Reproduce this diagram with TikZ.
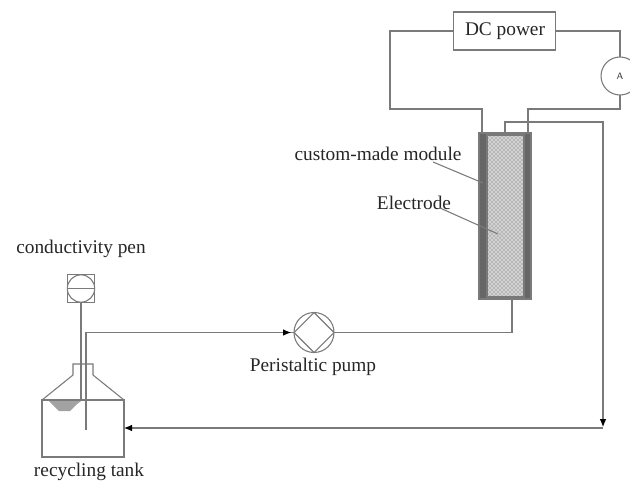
\documentclass[tikz,border=0pt]{standalone}
\usepackage{fontspec}
\setmainfont{Liberation Serif}
\usetikzlibrary{arrows.meta,patterns}
\definecolor{wire}{rgb}{0.48,0.48,0.48}
\definecolor{wall}{rgb}{0.40,0.40,0.40}
\definecolor{core}{rgb}{0.82,0.82,0.82}
\tikzset{
  pipe/.style={draw=wire,line width=0.8pt},
  flow/.style={pipe,-{Latex[length=6pt,width=5pt,black]}},
  part/.style={draw=wire,line width=0.8pt,inner sep=0pt,outer sep=0pt},
  lbl/.style={font=\fontsize{14.5}{16}\selectfont,text=black!85,inner sep=0pt}
}
\begin{document}
\begin{tikzpicture}[x=0.75pt,y=0.75pt,yscale=-1,xscale=1]
\useasboundingbox (0,0) rectangle (630,482);

%Module
\node (module) [part,fill=wall,minimum width=39pt,minimum height=124.5pt] at (505,216) {};
\node (electrode) [part,fill=core,minimum width=27.75pt,minimum height=121.5pt] at (505.5,216) {};
\fill [pattern=crosshatch dots,pattern color=black!60] (electrode.north west) rectangle (electrode.south east);

%Power and ammeter
\node (power) [part,minimum width=77pt,minimum height=28.5pt] at (504.5,31) {};
\node (powertxt) [lbl] at (505,31) {DC power};
\node (ammeter) [part,circle,minimum size=28.5pt,fill=white] at (620,76) {};
\node (ammetertxt) [font=\sffamily\fontsize{7}{8}\selectfont,text=black!80,inner sep=0pt] at (620,76) {A};

%Pump
\node (pump) [part,circle,minimum size=30pt] at (314,332.5) {};
\draw [pipe] (pump.west) -- (pump.north) -- (pump.east) -- (pump.south) -- cycle;

%Pen
\node (pen) [part,minimum size=20.5pt] at (81,288.5) {};
\node (pencircle) [part,circle,minimum size=20.5pt] at (81,288.5) {};
\draw [pipe] (pencircle.west) -- (pencircle.east);

%Tank
\coordinate (tankL) at (42,400);
\coordinate (tankR) at (124,400);
\coordinate (tankIn) at (124,428);
\draw [pipe] (tankL) -- (124,400) -- (124,457) -- (42,457) -- cycle;
\draw [pipe] (tankL) -- (73,375) -- (73,364) -- (93,364) -- (93,375) -- (tankR);
\fill [wire,opacity=0.7] (49,401) -- (81,401) -- (76,405) -- (70,411) -- (59,411) -- (54,406) -- cycle;

%Circuit
\coordinate (wireA) at (390,31);
\coordinate (wireB) at (390,109);
\coordinate (wireC) at (482,109);
\coordinate (wireD) at (482,133);
\coordinate (wireE) at (620,31);
\coordinate (wireF) at (620,109);
\coordinate (wireG) at (528,109);
\coordinate (wireH) at (528,133);
\draw [pipe] (power.west) -- (wireA) -- (wireB) -- (wireC) -- (wireD);
\draw [pipe] (power.east) -- (wireE) -- (ammeter.north);
\draw [pipe] (ammeter.south) -- (wireF) -- (wireG) -- (wireH);

%Flow lines
\coordinate (outA) at (505,133);
\coordinate (outB) at (505,122);
\coordinate (outC) at (603,122);
\coordinate (outD) at (603,427);
\coordinate (outE) at (603,428);
\draw [flow] (outA) -- (outB) -- (outC) -- (outD);
\draw [flow] (outE) -- (tankIn);
\coordinate (backA) at (512,299);
\coordinate (backB) at (512,332.5);
\draw [pipe] (backA) -- (backB) -- (pump.east);
\coordinate (dipA) at (86,430);
\coordinate (dipB) at (86,332.5);
\draw [pipe] (dipA) -- (dipB) -- (pump.west);
\coordinate (pumpIn) at (291,332.5);
\coordinate (pumpArrow) at (275,332.5);
\draw [flow] (pumpArrow) -- (pumpIn);
\coordinate (penEnd) at (81,400);
\draw [pipe] (pen.south) -- (penEnd);

%Leaders
\node (moduletxt) [lbl] at (378,154) {custom-made module};
\node (electrodetxt) [lbl] at (414,203) {Electrode};
\coordinate (moduleTip) at (483,183);
\coordinate (electrodeTip) at (498,234);
\draw [pipe] (433,162) -- (moduleTip);
\draw [pipe] (440,208) -- (electrodeTip);

% Text Node
\node (pumptxt) [lbl] at (313,367) {Peristaltic pump};
\node (pentxt) [lbl] at (81,249) {conductivity pen};
\node (tanktxt) [lbl] at (89,472) {recycling tank};
\end{tikzpicture}
\end{document}
